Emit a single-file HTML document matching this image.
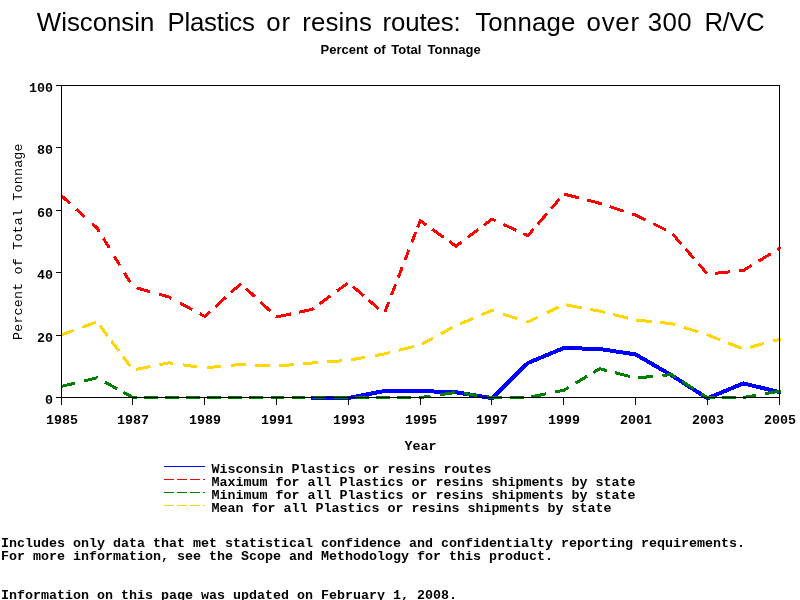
<!DOCTYPE html>
<html lang="en">
<head>
<meta charset="utf-8">
<title>Wisconsin Plastics or resins routes: Tonnage over 300 R/VC</title>
<style>
html,body{margin:0;padding:0;background:#fff;width:800px;height:600px;overflow:hidden}
svg{display:block}
</style>
</head>
<body>
<svg width="800" height="600" viewBox="0 0 800 600">
<rect width="800" height="600" fill="#fff"/>
<g fill="none" stroke-linejoin="round" stroke-linecap="butt" shape-rendering="crispEdges">
<polyline id="blue" stroke="#0000ff" stroke-width="4" points="311,398 348.4,398.00 384.3,391.00 420.2,391.00 456.1,392.30 492.0,398.20 527.9,363.00 563.8,348.00 599.7,349.00 635.6,354.40 671.5,375.20 707.4,398.30 743.3,383.40 781,392.5"/>
<path id="red" stroke="#ff0000" stroke-width="3" d="M61.9 196.1 L69.8 203.3 M76.4 209.3 L84.9 217.0 M92.3 223.7 L97.1 228.0 L99.5 231.9 M103.3 238.2 L109.3 248.0 M114.3 256.3 L119.8 265.3 M124.3 272.7 L130.3 282.5 M136.4 287.9 L150.0 291.7 M159.0 294.2 L168.9 297.0 L171.3 298.3 M180.1 303.1 L192.3 309.7 M199.7 313.7 L204.8 316.5 L210.2 311.5 M215.4 306.8 L225.6 297.4 M231.0 292.4 L241.0 283.8 M245.8 288.3 L255.0 296.8 M260.4 301.9 L270.6 311.4 M275.8 316.3 L276.6 317.0 L290.9 313.9 M299.1 312.2 L312.5 309.3 L313.6 308.4 M319.8 303.9 L330.6 295.8 M337.0 291.0 L347.6 283.1 M353.0 286.5 L363.6 295.7 M368.4 299.8 L378.6 308.7 M384.9 312.2 L388.7 302.1 M391.5 295.1 L395.5 284.5 M398.3 277.5 L402.2 267.2 M405.1 259.9 L408.9 249.8 M411.8 242.5 L415.7 232.2 M417.6 227.5 L420.2 220.7 L426.3 225.0 M432.3 229.3 L443.7 237.4 M449.3 241.4 L456.1 246.2 L461.6 242.0 M467.8 237.4 L478.2 229.4 M483.8 225.2 L492.0 219.0 L495.7 220.8 M503.3 224.3 L516.3 230.4 M523.3 233.6 L527.9 235.8 L533.5 229.2 M537.9 224.2 L546.9 213.6 M551.1 208.8 L559.5 199.0 M564.2 194.1 L578.8 197.9 M587.2 200.0 L599.7 203.3 L601.8 204.0 M609.6 206.5 L623.8 211.2 M632.2 213.9 L635.6 215.0 L645.7 220.0 M653.3 223.7 L666.1 230.1 M672.5 233.8 L681.5 244.3 M685.5 248.8 L693.9 258.5 M698.5 263.7 L707.1 273.7 M715.1 273.3 L729.9 271.8 M739.1 270.9 L743.3 270.5 L751.7 265.4 M758.7 261.1 L770.7 253.7 M777.3 249.7 L779.2 248.5 L780.7 247.6"/>
<path id="green" stroke="#008000" stroke-width="3" d="M61.5 386.4 L74.9 383.2 M84.1 380.9 L97.1 377.8 L97.7 378.1 M104.9 382.1 L117.1 388.8 M123.3 392.2 L133.0 397.5 L137.0 397.5 M144.0 397.5 L157.8 397.5 M165.1 397.5 L168.9 397.5 L178.9 397.5 M186.2 397.5 L200.0 397.5 M207.2 397.5 L221.0 397.5 M228.3 397.5 L240.7 397.5 L242.1 397.5 M249.4 397.5 L263.2 397.5 M270.5 397.5 L276.6 397.5 L284.3 397.5 M291.6 397.5 L305.4 397.5 M312.6 397.5 L326.4 397.5 M333.7 397.5 L347.5 397.5 M354.8 397.5 L368.6 397.5 M375.9 397.5 L384.3 397.5 L389.7 397.5 M397.0 397.5 L410.8 397.5 M418.6 397.5 L420.2 397.5 L430.5 396.0 M440.1 394.7 L454.9 392.6 M464.1 393.5 L476.9 395.4 M487.1 396.8 L492.0 397.5 L502.0 397.5 M510.0 397.5 L524.0 397.5 M531.1 396.9 L545.9 393.9 M555.1 392.0 L563.8 390.3 L568.7 387.4 M575.7 383.1 L587.1 376.3 M593.3 372.5 L599.7 368.7 L606.8 370.6 M615.2 372.7 L629.8 376.5 M638.1 377.8 L652.9 376.4 M662.5 375.5 L671.5 374.6 L675.7 377.3 M682.3 381.5 L693.7 388.7 M701.3 393.6 L707.4 397.5 L715.0 397.5 M722.0 397.5 L736.0 397.5 M743.1 397.5 L755.9 395.3 M765.1 393.7 L779.2 391.3 L780.7 391.0"/>
<path id="yellow" stroke="#ffd700" stroke-width="3" d="M61.6 334.9 L73.8 330.4 M82.2 327.3 L95.8 322.3 M99.9 325.5 L107.5 335.8 M111.5 341.1 L118.9 351.1 M123.1 356.7 L130.1 366.1 M136.1 369.4 L150.5 366.5 M159.5 364.7 L168.9 362.8 L173.3 363.4 M183.1 364.9 L197.3 366.9 M206.7 367.8 L221.3 366.3 M230.7 365.4 L240.7 364.4 L246.0 364.6 M254.6 365.0 L270.0 365.7 M279.0 365.8 L294.0 364.6 M303.0 363.8 L312.5 363.0 L318.0 362.6 M327.0 361.9 L342.0 360.8 M351.1 359.8 L365.3 357.3 M375.1 355.6 L384.3 354.0 L389.9 352.6 M398.7 350.4 L413.9 346.6 M421.7 344.2 L433.1 338.0 M440.9 333.8 L452.7 327.3 M460.2 323.8 L473.2 318.4 M481.6 314.8 L492.0 310.5 L493.8 311.1 M503.2 314.1 L517.2 318.6 M526.2 321.4 L527.9 322.0 L537.7 317.2 M546.9 312.8 L558.7 307.0 M566.1 304.9 L581.9 307.9 M590.1 309.4 L599.7 311.2 L604.9 312.5 M613.1 314.5 L627.9 318.1 M636.1 320.0 L651.9 321.6 M660.1 322.5 L671.5 323.6 L675.4 324.8 M683.8 327.4 L698.2 331.9 M706.6 334.4 L707.4 334.7 L720.2 339.8 M728.2 343.0 L741.8 348.4 M749.8 347.3 L764.2 343.5 M773.2 341.1 L779.2 339.5 L780.7 339.1"/>
</g>
<g shape-rendering="crispEdges" stroke="#000" stroke-width="1" fill="none">
<rect x="61.5" y="85.5" width="718" height="312"/>
<line x1="56" y1="85.5" x2="61" y2="85.5"/>
<line x1="56" y1="147.5" x2="61" y2="147.5"/>
<line x1="56" y1="210.5" x2="61" y2="210.5"/>
<line x1="56" y1="272.5" x2="61" y2="272.5"/>
<line x1="56" y1="335.5" x2="61" y2="335.5"/>
<line x1="56" y1="397.5" x2="61" y2="397.5"/>
<line x1="61.5" y1="398" x2="61.5" y2="405"/>
<line x1="132.5" y1="398" x2="132.5" y2="405"/>
<line x1="204.5" y1="398" x2="204.5" y2="405"/>
<line x1="276.5" y1="398" x2="276.5" y2="405"/>
<line x1="348.5" y1="398" x2="348.5" y2="405"/>
<line x1="420.5" y1="398" x2="420.5" y2="405"/>
<line x1="491.5" y1="398" x2="491.5" y2="405"/>
<line x1="563.5" y1="398" x2="563.5" y2="405"/>
<line x1="635.5" y1="398" x2="635.5" y2="405"/>
<line x1="707.5" y1="398" x2="707.5" y2="405"/>
<line x1="779.5" y1="398" x2="779.5" y2="405"/>
</g>
<g shape-rendering="crispEdges" fill="none" stroke-width="1">
<line x1="164" y1="466.5" x2="205" y2="466.5" stroke="#0000ff"/>
<line x1="164" y1="479.5" x2="205" y2="479.5" stroke="#ff0000" stroke-dasharray="9.5 3.5"/>
<line x1="164" y1="492.5" x2="205" y2="492.5" stroke="#008000" stroke-dasharray="9.5 3.5"/>
<line x1="164" y1="505.5" x2="205" y2="505.5" stroke="#ffd700" stroke-dasharray="9.5 3.5"/>
</g>
<text id="title" y="30.7" font-family="'Liberation Sans', sans-serif" font-size="25.8" fill="#000"><tspan x="36.8">Wisconsin </tspan><tspan x="167.4" letter-spacing="-0.2">Plastics </tspan><tspan x="266.3" letter-spacing="0.8">or </tspan><tspan x="302.3" letter-spacing="0.15">resins </tspan><tspan x="382.4" letter-spacing="-0.1">routes: </tspan><tspan x="475.2" letter-spacing="0.2">Tonnage </tspan><tspan x="586.5" letter-spacing="0.8">over </tspan><tspan x="647.8" letter-spacing="0.4">300 </tspan><tspan x="704.4" letter-spacing="-0.5">R/VC</tspan></text>
<text id="sub" y="53.8" font-family="'Liberation Sans', sans-serif" font-weight="bold" font-size="13" fill="#000"><tspan x="320.5">Percent </tspan><tspan x="373.4">of </tspan><tspan x="391.25">Total </tspan><tspan x="427.5">Tonnage</tspan></text>
<g font-family="'Liberation Mono', monospace" font-weight="bold" font-size="13.33" fill="#000">
<text x="29" y="92.0" textLength="24" lengthAdjust="spacing">100</text>
<text x="37" y="154.4" textLength="16" lengthAdjust="spacing">80</text>
<text x="37" y="216.8" textLength="16" lengthAdjust="spacing">60</text>
<text x="37" y="279.2" textLength="16" lengthAdjust="spacing">40</text>
<text x="37" y="341.6" textLength="16" lengthAdjust="spacing">20</text>
<text x="45" y="404.0" textLength="8" lengthAdjust="spacing">0</text>
<text x="45.9" y="424" textLength="32" lengthAdjust="spacing">1985</text>
<text x="116.9" y="424" textLength="32" lengthAdjust="spacing">1987</text>
<text x="188.9" y="424" textLength="32" lengthAdjust="spacing">1989</text>
<text x="260.9" y="424" textLength="32" lengthAdjust="spacing">1991</text>
<text x="332.9" y="424" textLength="32" lengthAdjust="spacing">1993</text>
<text x="404.9" y="424" textLength="32" lengthAdjust="spacing">1995</text>
<text x="475.9" y="424" textLength="32" lengthAdjust="spacing">1997</text>
<text x="547.9" y="424" textLength="32" lengthAdjust="spacing">1999</text>
<text x="619.9" y="424" textLength="32" lengthAdjust="spacing">2001</text>
<text x="691.9" y="424" textLength="32" lengthAdjust="spacing">2003</text>
<text x="763.9" y="424" textLength="32" lengthAdjust="spacing">2005</text>
<text id="year" x="404.5" y="450" textLength="32" lengthAdjust="spacing">Year</text>
</g>
<text id="ylab" transform="translate(22,340) rotate(-90)" font-family="'Liberation Mono', monospace" font-size="13.33" letter-spacing="0.2" fill="#000">Percent of Total Tonnage</text>
<g font-family="'Liberation Mono', monospace" font-weight="bold" font-size="13.33" fill="#000" style="white-space:pre">
<text x="211.5" y="473" textLength="280" lengthAdjust="spacing">Wisconsin Plastics or resins routes</text>
<text x="211.5" y="486" textLength="424" lengthAdjust="spacing">Maximum for all Plastics or resins shipments by state</text>
<text x="211.5" y="499" textLength="424" lengthAdjust="spacing">Minimum for all Plastics or resins shipments by state</text>
<text x="211.5" y="512" textLength="400" lengthAdjust="spacing">Mean for all Plastics or resins shipments by state</text>
<text x="1" y="547" textLength="744" lengthAdjust="spacing">Includes only data that met statistical confidence and confidentialty reporting requirements.</text>
<text x="1" y="560" textLength="552" lengthAdjust="spacing">For more information, see the Scope and Methodology for this product.</text>
<text x="1" y="599" textLength="456" lengthAdjust="spacing">Information on this page was updated on February 1, 2008.</text>
</g>
</svg>
</body>
</html>
